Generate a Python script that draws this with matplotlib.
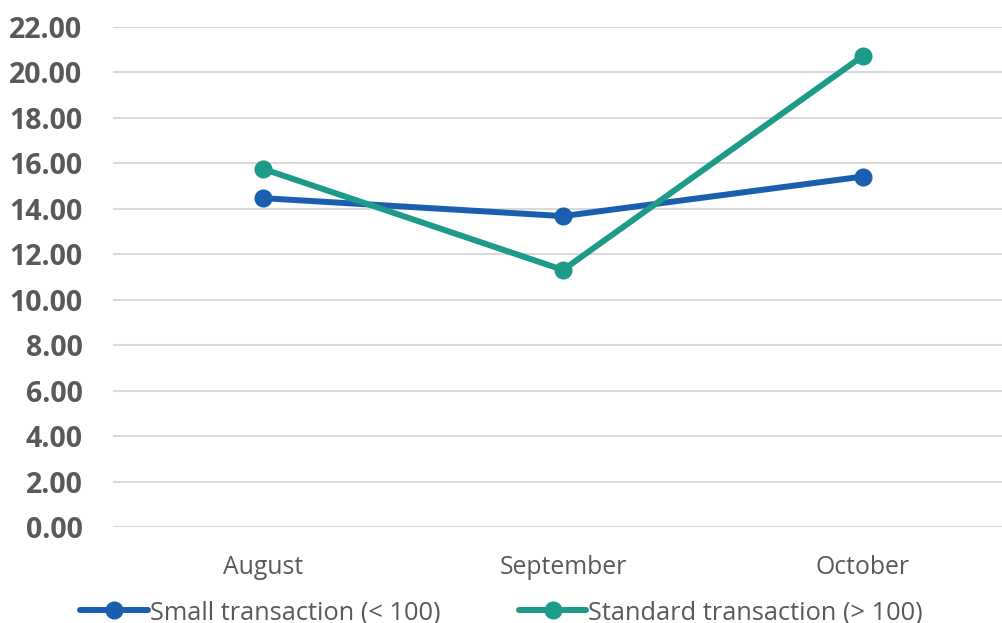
import matplotlib.pyplot as plt

months = ['August', 'September', 'October']
small_tx = [14.47, 13.68, 15.42]
standard_tx = [15.76, 11.31, 20.73]

blue = '#1A5EB0'
teal = '#1D9A88'
grey_text = '#595959'

plt.rcParams['font.family'] = ['Open Sans', 'DejaVu Sans']

fig = plt.figure(figsize=(10.03, 6.23), dpi=100)
ax = fig.add_axes([113 / 1003, 1 - 527 / 623, 900 / 1003, 500 / 623])

x = [0.5, 1.5, 2.5]
ax.plot(x, small_tx, color=blue, lw=4.3, marker='o', ms=12,
        label='Small transaction (< 100)', solid_capstyle='round', zorder=3)
ax.plot(x, standard_tx, color=teal, lw=4.3, marker='o', ms=12,
        label='Standard transaction (> 100)', solid_capstyle='round', zorder=3)

ax.set_xlim(0, 3)
ax.set_ylim(0, 22)
ax.set_yticks(range(0, 23, 2))
ax.set_yticklabels([f'{v:.2f}' for v in range(0, 23, 2)],
                   fontsize=20.5, fontweight='bold', color=grey_text)
ax.set_xticks(x)
ax.set_xticklabels(months, fontsize=17.8, color=grey_text)
ax.tick_params(axis='y', length=0, pad=22)
ax.tick_params(axis='x', length=0, pad=20)
ax.grid(axis='y', color='#D9D9D9', lw=1.5)
ax.set_axisbelow(True)
for s in ax.spines.values():
    s.set_visible(False)

fig.legend(loc='lower center', bbox_to_anchor=(0.5, -0.04), ncol=2,
           frameon=False, fontsize=18.3, labelcolor=grey_text,
           handlelength=2.66, handletextpad=0.08, columnspacing=3.1)

plt.savefig('out.png', dpi=100)
